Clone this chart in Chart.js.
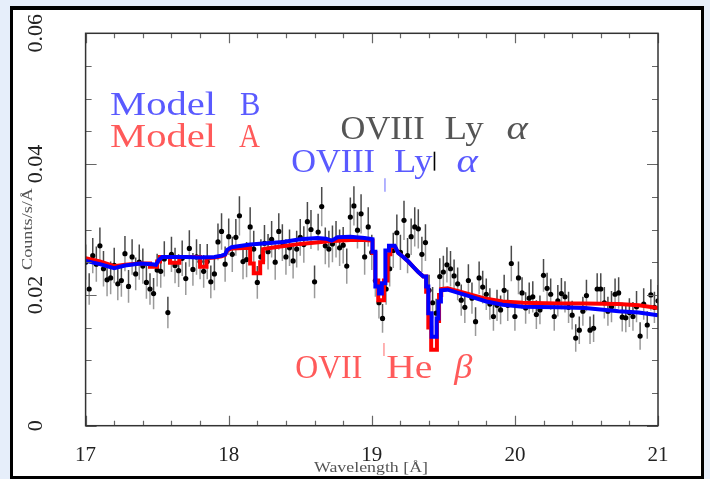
<!DOCTYPE html>
<html>
<head>
<meta charset="utf-8">
<script src="https://cdn.jsdelivr.net/npm/chart.js@4.4.0/dist/chart.umd.min.js"></script>
<style>
  html, body { margin: 0; padding: 0; background: #e6eefa; overflow: hidden; }
  #frame { position: absolute; left: 10px; top: 6px; width: 694px; height: 473px;
           box-sizing: border-box; border: 3px solid #000; border-top-width: 4px; background: #fff; }
  #myChart { position: absolute; left: 0; top: 0; }
</style>
</head>
<body>
<div id="frame"></div>
<canvas id="myChart" width="710" height="479"></canvas>
<script>
// bins of the spectrum (Å)
const wavelength = [
  17.000,17.025,17.050,17.075,17.100,17.125,17.150,17.175,17.200,17.225,
  17.250,17.275,17.300,17.325,17.350,17.375,17.400,17.425,17.450,17.475,
  17.500,17.525,17.550,17.575,17.600,17.625,17.650,17.675,17.700,17.725,
  17.750,17.775,17.800,17.825,17.850,17.875,17.900,17.925,17.950,17.975,
  18.000,18.025,18.050,18.075,18.100,18.125,18.150,18.175,18.200,18.225,
  18.250,18.275,18.300,18.325,18.350,18.375,18.400,18.425,18.450,18.475,
  18.500,18.525,18.550,18.575,18.600,18.625,18.650,18.675,18.700,18.725,
  18.750,18.775,18.800,18.825,18.850,18.875,18.900,18.925,18.950,18.975,
  19.000,19.025,19.050,19.075,19.100,19.125,19.150,19.175,19.200,19.225,
  19.250,19.275,19.300,19.325,19.350,19.375,19.400,19.425,19.450,19.475,
  19.500,19.525,19.550,19.575,19.600,19.625,19.650,19.675,19.700,19.725,
  19.750,19.775,19.800,19.825,19.850,19.875,19.900,19.925,19.950,19.975,
  20.000,20.025,20.050,20.075,20.100,20.125,20.150,20.175,20.200,20.225,
  20.250,20.275,20.300,20.325,20.350,20.375,20.400,20.425,20.450,20.475,
  20.500,20.525,20.550,20.575,20.600,20.625,20.650,20.675,20.700,20.725,
  20.750,20.775,20.800,20.825,20.850,20.875,20.900,20.925,20.950,20.975,
  21.000
];
// observed counts/s/Å
const counts = [
  0.0250,0.0209,0.0260,0.0247,0.0275,0.0240,0.0223,0.0226,0.0245,0.0217,
  0.0222,0.0263,0.0213,0.0258,0.0232,0.0250,0.0244,0.0219,0.0209,0.0202,
  0.0238,0.0236,0.0255,0.0173,0.0262,0.0245,0.0237,0.0256,0.0225,0.0271,
  0.0239,0.0258,0.0251,0.0236,0.0251,0.0220,0.0232,0.0281,0.0297,0.0247,
  0.0289,0.0262,0.0288,0.0321,0.0251,0.0254,0.0304,0.0270,0.0219,0.0258,
  0.0279,0.0266,0.0285,0.0250,0.0297,0.0280,0.0258,0.0272,0.0252,0.0270,
  0.0288,0.0277,0.0312,0.0300,0.0220,0.0296,0.0335,0.0275,0.0270,0.0278,
  0.0285,0.0272,0.0276,0.0244,0.0319,0.0336,0.0299,0.0324,0.0258,0.0304,
  0.0265,0.0222,0.0188,0.0164,0.0209,0.0240,0.0268,0.0295,0.0265,0.0314,
  0.0260,0.0289,0.0304,0.0301,0.0262,0.0280,0.0207,0.0188,0.0172,0.0228,
  0.0235,0.0246,0.0240,0.0229,0.0217,0.0192,0.0181,0.0222,0.0195,0.0159,
  0.0226,0.0212,0.0201,0.0186,0.0167,0.0184,0.0177,0.0207,0.0184,0.0248,
  0.0167,0.0226,0.0203,0.0180,0.0195,0.0197,0.0170,0.0177,0.0230,0.0210,
  0.0201,0.0167,0.0191,0.0202,0.0197,0.0181,0.0169,0.0134,0.0146,0.0175,
  0.0199,0.0146,0.0149,0.0209,0.0209,0.0188,0.0175,0.0182,0.0201,0.0203,
  0.0166,0.0165,0.0173,0.0167,0.0182,0.0137,0.0186,0.0154,0.0200,0.0181,
  0.0191
];
// 1 sigma errors
const errors = [
  0.0027,0.0024,0.0027,0.0027,0.0028,0.0027,0.0025,0.0025,0.0027,0.0025,
  0.0025,0.0027,0.0025,0.0027,0.0025,0.0027,0.0027,0.0025,0.0024,0.0024,
  0.0025,0.0025,0.0027,0.0024,0.0027,0.0027,0.0025,0.0027,0.0025,0.0028,
  0.0025,0.0027,0.0027,0.0025,0.0027,0.0025,0.0025,0.0028,0.0028,0.0027,
  0.0028,0.0027,0.0028,0.0030,0.0027,0.0027,0.0030,0.0028,0.0025,0.0027,
  0.0028,0.0027,0.0028,0.0027,0.0028,0.0028,0.0027,0.0028,0.0027,0.0028,
  0.0028,0.0028,0.0030,0.0030,0.0025,0.0028,0.0030,0.0028,0.0028,0.0028,
  0.0028,0.0028,0.0028,0.0027,0.0030,0.0030,0.0028,0.0030,0.0027,0.0030,
  0.0027,0.0025,0.0024,0.0022,0.0024,0.0027,0.0027,0.0028,0.0027,0.0030,
  0.0027,0.0028,0.0030,0.0030,0.0027,0.0028,0.0024,0.0024,0.0022,0.0028,
  0.0025,0.0027,0.0027,0.0025,0.0025,0.0024,0.0024,0.0025,0.0024,0.0022,
  0.0025,0.0025,0.0024,0.0024,0.0022,0.0024,0.0022,0.0024,0.0024,0.0027,
  0.0022,0.0025,0.0024,0.0024,0.0024,0.0024,0.0022,0.0022,0.0025,0.0024,
  0.0024,0.0022,0.0024,0.0024,0.0024,0.0024,0.0022,0.0021,0.0021,0.0022,
  0.0024,0.0021,0.0021,0.0024,0.0024,0.0024,0.0022,0.0024,0.0024,0.0024,
  0.0022,0.0022,0.0022,0.0022,0.0024,0.0021,0.0024,0.0021,0.0024,0.0024,
  0.0024
];

// Model A (red) and Model B (blue), vertices of the step curves
const modelAX = [17.00,17.10,17.20,17.275,17.38,17.45,17.45,17.50,17.50,17.52,17.52,17.59,17.59,17.655,17.655,17.80,17.80,17.845,17.845,17.90,17.95,17.975,17.99,18.02,18.15,18.15,18.175,18.175,18.22,18.22,18.24,18.24,18.30,18.50,18.70,18.85,18.95,19.005,19.005,19.025,19.025,19.045,19.045,19.085,19.085,19.11,19.11,19.13,19.13,19.16,19.185,19.22,19.255,19.29,19.325,19.36,19.38,19.38,19.395,19.395,19.415,19.415,19.455,19.455,19.47,19.47,19.485,19.485,19.53,19.68,19.80,19.915,20.055,20.30,20.49,20.725,20.865,21.00];
const modelAY = [0.0256,0.0251,0.0244,0.0246,0.0248,0.0248,0.0243,0.0243,0.0251,0.0251,0.0258,0.0258,0.0249,0.0249,0.0258,0.0258,0.0243,0.0243,0.0256,0.0257,0.0259,0.0261,0.0268,0.0271,0.0272,0.0248,0.0248,0.0233,0.0233,0.0250,0.0250,0.0270,0.0272,0.0278,0.0282,0.0284,0.0284,0.0283,0.0264,0.0264,0.0222,0.0222,0.0192,0.0192,0.0222,0.0222,0.0262,0.0262,0.0273,0.0274,0.0264,0.0258,0.0251,0.0243,0.0235,0.0228,0.0228,0.0205,0.0205,0.0150,0.0150,0.0116,0.0116,0.0160,0.0160,0.0200,0.0200,0.0209,0.0210,0.0201,0.0194,0.0190,0.0188,0.0187,0.0187,0.0186,0.0184,0.0180];
const modelBX = [17.00,17.10,17.20,17.275,17.38,17.465,17.492,17.51,17.535,17.60,17.70,17.80,17.90,17.95,17.975,17.99,18.02,18.15,18.38,18.50,18.62,18.68,18.72,18.76,18.85,18.95,19.005,19.005,19.025,19.025,19.05,19.05,19.07,19.07,19.095,19.095,19.12,19.12,19.16,19.185,19.22,19.255,19.29,19.325,19.36,19.38,19.38,19.395,19.395,19.418,19.418,19.453,19.453,19.466,19.466,19.483,19.483,19.53,19.68,19.80,19.915,20.055,20.30,20.49,20.725,20.865,21.00];
const modelBY = [0.0252,0.0247,0.0241,0.0245,0.0248,0.0247,0.0246,0.0253,0.0258,0.0258,0.0258,0.0257,0.0258,0.0260,0.0262,0.0269,0.0273,0.0277,0.0281,0.0285,0.0287,0.0286,0.0283,0.0288,0.0289,0.0287,0.0285,0.0266,0.0266,0.0213,0.0213,0.0202,0.0202,0.0218,0.0218,0.0268,0.0268,0.0275,0.0275,0.0264,0.0258,0.0251,0.0243,0.0235,0.0228,0.0228,0.0213,0.0213,0.0172,0.0172,0.0136,0.0136,0.0164,0.0164,0.0190,0.0190,0.0207,0.0208,0.0198,0.0190,0.0185,0.0182,0.0181,0.0180,0.0175,0.0173,0.0169];

// axis ticks
const xTicks = [17, 18, 19, 20, 21];
const xTickLabels = ['17', '18', '19', '20', '21'];
const yTicks = [0, 0.02, 0.04, 0.06];
const yTickLabels = ['0', '0.02', '0.04', '0.06'];

const serif = '"Liberation Serif", "DejaVu Serif", serif';

// text on the plot: position in data units, pieces [text, dx px, width px, italic]
const notes = [
  { color: '#5a5aff', x: 17.171, y: 0.04758, parts: [['Model', 0, 106], ['B', 130, 20.4]] },
  { color: '#ff5a5a', x: 17.171, y: 0.04266, parts: [['Model', 0, 106], ['A', 129, 21]] },
  { color: '#555555', x: 18.782, y: 0.04379, parts: [['OVIII', 0, 84], ['Ly', 104, 39], ['α', 166, 21.3, true]] },
  { color: '#5a5aff', x: 18.437, y: 0.03875, parts: [['OVIII', 0, 83.8], ['Ly', 102.8, 38.5], ['α', 165.3, 21.3, true]] },
  { color: '#ff5a5a', x: 18.465, y: 0.00725, parts: [['OVII', 0, 67], ['He', 91, 46.2], ['β', 159, 18.1, true]] }
];
const marks = [
  { x: 19.438, y0: 0.0390, y1: 0.0419, color: '#000000', w: 1.6 },
  { x: 19.092, y0: 0.03578, y1: 0.03783, color: '#8080ff', w: 1.2 },
  { x: 19.085, y0: 0.01066, y1: 0.01265, color: '#ff8080', w: 1.2 }
];

function drawFit(ctx, text, x, y, w, font) {
  ctx.font = font;
  const m = ctx.measureText(text).width;
  ctx.save();
  ctx.translate(x, y);
  ctx.scale(w / m, 1);
  ctx.fillText(text, 0, 0);
  ctx.restore();
}

const errBars = {
  id: 'errBars',
  beforeDatasetsDraw(chart) {
    const { ctx, chartArea: a, scales: { x, y } } = chart;
    ctx.save();
    ctx.beginPath();
    ctx.rect(a.left, a.top, a.right - a.left, a.bottom - a.top);
    ctx.clip();
    ctx.lineWidth = 1.5;
    for (let i = 0; i < wavelength.length; i++) {
      const px = x.getPixelForValue(wavelength[i]);
      const py = y.getPixelForValue(counts[i]);
      const top = y.getPixelForValue(counts[i] + errors[i]);
      const bot = y.getPixelForValue(counts[i] - errors[i]);
      ctx.strokeStyle = '#4a4a4a';
      ctx.beginPath(); ctx.moveTo(px, top); ctx.lineTo(px, py); ctx.stroke();
      ctx.strokeStyle = '#9a9a9a';
      ctx.beginPath(); ctx.moveTo(px, py); ctx.lineTo(px, bot); ctx.stroke();
    }
    ctx.restore();
  }
};

const frameAndText = {
  id: 'frameAndText',
  afterDraw(chart) {
    const { ctx, chartArea: a, scales: { x, y } } = chart;
    ctx.save();
    // ticks, inward on all four sides
    ctx.strokeStyle = '#666';
    ctx.lineWidth = 1.2;
    for (let v = 17; v <= 21.001; v += 0.2) {
      const px = Math.round(x.getPixelForValue(v)) + 0.5;
      const major = Math.abs(v - Math.round(v)) < 0.01;
      const len = major ? 10 : 5;
      ctx.beginPath();
      ctx.moveTo(px, a.bottom); ctx.lineTo(px, a.bottom - len);
      ctx.moveTo(px, a.top); ctx.lineTo(px, a.top + len);
      ctx.stroke();
    }
    for (let k = 0; k <= 12; k++) {
      const py = Math.round(y.getPixelForValue(k * 0.005)) + 0.5;
      const len = k % 4 === 0 ? 11 : 6;
      ctx.beginPath();
      ctx.moveTo(a.left, py); ctx.lineTo(a.left + len, py);
      ctx.moveTo(a.right, py); ctx.lineTo(a.right - len, py);
      ctx.stroke();
    }
    // box
    ctx.strokeStyle = '#333';
    ctx.lineWidth = 1.5;
    ctx.strokeRect(a.left, a.top, a.right - a.left, a.bottom - a.top);

    // tick labels
    ctx.fillStyle = '#222';
    ctx.textBaseline = 'alphabetic';
    ctx.font = '21px ' + serif;
    ctx.textAlign = 'center';
    xTicks.forEach((t, i) => {
      ctx.fillText(xTickLabels[i], x.getPixelForValue(t), 461);
    });
    ctx.font = '22px ' + serif;
    yTicks.forEach((t, i) => {
      ctx.save();
      ctx.translate(41.5, y.getPixelForValue(t));
      ctx.rotate(-Math.PI / 2);
      ctx.fillText(yTickLabels[i], 0, 0);
      ctx.restore();
    });

    // axis titles
    ctx.fillStyle = '#555';
    ctx.textAlign = 'left';
    const xt = 'Wavelength [Å]';
    drawFit(ctx, xt, 314, 472, 114, '14px ' + serif);
    ctx.save();
    ctx.translate(31.5, 270);
    ctx.rotate(-Math.PI / 2);
    drawFit(ctx, 'Counts/s/Å', 0, 0, 82, '14px ' + serif);
    ctx.restore();

    // line labels
    notes.forEach(n => {
      ctx.fillStyle = n.color;
      const bx = x.getPixelForValue(n.x);
      const by = y.getPixelForValue(n.y);
      n.parts.forEach(p => {
        const font = (p[3] ? 'italic ' : '') + '33px ' + serif;
        drawFit(ctx, p[0], bx + p[1], by, p[2], font);
      });
    });
    marks.forEach(m => {
      const px = x.getPixelForValue(m.x);
      ctx.strokeStyle = m.color;
      ctx.lineWidth = m.w;
      ctx.beginPath();
      ctx.moveTo(px, y.getPixelForValue(m.y0));
      ctx.lineTo(px, y.getPixelForValue(m.y1));
      ctx.stroke();
    });
    ctx.restore();
  }
};

const ctx = document.getElementById('myChart').getContext('2d');
const myChart = new Chart(ctx, {
  type: 'scatter',
  data: {
    datasets: [
      {
        label: 'Model B',
        data: modelBX.map((v, i) => ({ x: v, y: modelBY[i] })),
        showLine: true,
        borderColor: '#0000ff',
        borderWidth: 4,
        borderJoinStyle: 'miter',
        pointRadius: 0
      },
      {
        label: 'Model A',
        data: modelAX.map((v, i) => ({ x: v, y: modelAY[i] })),
        showLine: true,
        borderColor: '#ff0000',
        borderWidth: 4,
        borderJoinStyle: 'miter',
        pointRadius: 0
      },
      {
        label: 'Data',
        data: wavelength.map((v, i) => ({ x: v, y: counts[i] })),
        showLine: false,
        pointRadius: 2.6,
        pointBorderWidth: 0,
        backgroundColor: '#000'
      }
    ]
  },
  options: {
    responsive: false,
    animation: false,
    devicePixelRatio: 1,
    layout: { padding: { left: 85.6, right: 52, top: 33.3, bottom: 53.3 } },
    plugins: { legend: { display: false }, tooltip: { enabled: false } },
    scales: {
      x: { type: 'linear', min: 17, max: 21, display: false },
      y: { type: 'linear', min: 0, max: 0.06, display: false }
    }
  },
  plugins: [errBars, frameAndText]
});
</script>
</body>
</html>
